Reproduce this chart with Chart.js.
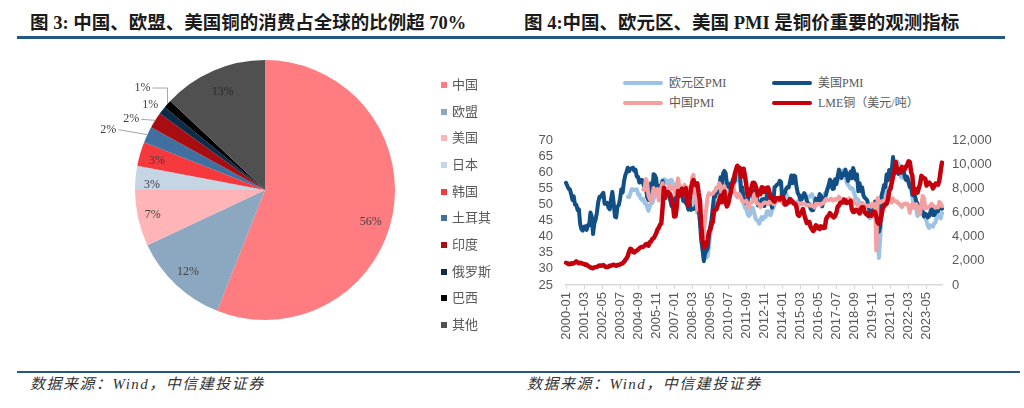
<!DOCTYPE html>
<html><head><meta charset="utf-8">
<script src="https://cdn.jsdelivr.net/npm/chart.js@4/dist/chart.umd.min.js"></script>
<style>
html,body{margin:0;padding:0;background:#fff;}
body{width:1024px;height:408px;position:relative;overflow:hidden;}
.title{position:absolute;top:12px;font-family:"Liberation Serif","Noto Sans CJK SC",serif;font-weight:700;font-size:18.5px;color:#1b1b1b;white-space:nowrap;line-height:22px;}
.rule{position:absolute;height:3px;background:#255783;}
.src{position:absolute;top:375px;font-family:"Liberation Serif","Noto Sans CJK SC",serif;font-style:italic;font-size:15px;letter-spacing:1.5px;color:#333;white-space:nowrap;line-height:18px;}
.pl{position:absolute;left:441px;font-family:"Liberation Serif","Noto Sans CJK SC",serif;font-size:13px;color:#595959;line-height:16px;white-space:nowrap;display:flex;align-items:center;}
.pl i{display:inline-block;width:6px;height:6px;margin-right:5px;}
.ll{position:absolute;font-family:"Liberation Serif","Noto Sans CJK SC",serif;font-size:12px;color:#595959;line-height:16px;white-space:nowrap;display:flex;align-items:center;}
.ll i{display:inline-block;width:40px;height:4px;margin-right:6px;border-radius:2px;}
canvas{position:absolute;}
</style></head>
<body>
<div class="title" style="left:30px">图 3: 中国、欧盟、美国铜的消费占全球的比例超 70%</div>
<div class="rule" style="left:17px;top:36px;width:495px"></div>
<div class="title" style="left:524px">图 4:中国、欧元区、美国 PMI 是铜价重要的观测指标</div>
<div class="rule" style="left:512px;top:36px;width:493px"></div>

<canvas id="pie" width="360" height="280" style="left:85px;top:50px"></canvas>
<div id="pieLegend"></div>

<canvas id="line" width="500" height="240" style="left:515px;top:125px"></canvas>
<div id="lineLegend"></div>

<div class="rule" style="left:17px;top:371px;width:1003px;height:2px"></div>
<div class="src" style="left:30px">数据来源：Wind，中信建投证券</div>
<div class="src" style="left:527px">数据来源：Wind，中信建投证券</div>

<script>
// ---------- Pie data ----------
const pieCategories = ['中国','欧盟','美国','日本','韩国','土耳其','印度','俄罗斯','巴西','其他'];
const pieShares = [56,12,7,3,3,2,2,1,1,13];
const pieColors = ['#ff7c80','#8ca7c0','#ffb5b7','#c5d5e4','#f5393c','#3f70a0','#a80d12','#0d2c4a','#000000','#505050'];

// ---------- Line chart data ----------
const firstYear = 2000, lastYear = 2024, lastMonthOfLastYear = 5;
const tickEvery = 14;
const seriesNames = ['欧元区PMI','美国PMI','中国PMI','LME铜（美元/吨）'];
const seriesColors = ['#9cc2e5','#114f84','#f4a0a3','#c4000c'];
const euroStart = '2004-01';
const chinaStart = '2005-01';
const leftTicks = {min:25, max:70, step:5};
const rightTicks = {min:0, max:12000, step:2000};

const usPMI = [
56.7,55.8,54.9,54.7,53.2,51.4,52.5,49.9,49.9,48.3,48.5,43.9,
42.3,41.9,43.1,43.2,42.1,43.6,43.5,47.5,46.2,40.8,44.1,45.3,
47.5,50.7,52.4,52.4,53.1,53.6,50.2,50.3,50.5,49.0,48.5,51.6,
53.9,50.5,46.2,46.0,49.4,49.8,51.8,54.7,53.7,57.0,59.0,60.1,
61.4,60.3,61.0,61.2,61.4,60.5,60.8,58.6,58.5,56.8,57.6,57.6,
56.4,55.3,55.2,52.3,51.4,53.8,56.6,53.6,59.4,59.1,58.1,54.2,
54.8,55.8,55.2,57.3,54.4,53.8,54.7,54.5,52.9,51.2,49.5,51.4,
49.3,52.3,50.7,54.7,52.6,55.0,53.1,51.1,51.5,50.4,50.0,48.4,
50.7,48.3,48.6,48.6,48.8,49.5,50.0,49.2,44.8,38.9,36.2,32.4,
34.9,35.5,36.4,40.4,42.8,45.3,48.9,52.8,52.4,55.2,53.7,54.9,
58.4,56.5,59.6,60.4,59.7,56.2,55.5,56.3,54.4,56.9,58.2,57.3,
60.8,61.4,61.2,60.4,53.5,55.3,50.9,50.6,51.6,50.8,52.7,53.9,
54.1,52.4,53.4,54.8,53.5,49.7,49.8,49.6,51.5,51.7,49.5,50.7,
53.1,54.2,51.3,50.7,49.0,50.9,55.4,55.7,56.2,56.4,57.3,57.0,
51.3,53.2,53.7,54.9,55.4,55.3,57.1,59.0,56.6,59.0,58.7,55.5,
53.5,52.9,51.5,51.5,52.8,53.5,52.7,51.1,50.2,50.1,48.6,48.2,
48.2,49.5,51.8,50.8,51.3,53.2,52.6,49.4,51.5,51.9,53.2,54.7,
56.0,57.7,57.2,54.8,54.9,57.8,56.3,58.8,60.8,58.7,58.2,59.7,
59.1,60.8,59.3,57.3,58.7,60.2,58.1,61.3,59.8,57.7,59.3,54.1,
56.6,54.2,55.3,52.8,52.1,51.7,51.2,49.1,47.8,48.3,48.1,47.2,
50.9,50.1,49.1,41.5,43.1,52.6,54.2,56.0,55.4,59.3,57.5,60.7,
58.7,60.8,64.7,60.7,61.2,60.6,59.5,59.9,61.1,60.8,61.1,58.8,
57.6,58.6,57.1,55.4,56.1,53.0,52.8,52.8,50.9,50.2,49.0,48.4,
47.4,47.7,46.3,47.1,46.9,46.0,46.4,47.6,49.0,46.7,46.7,47.4,
49.1,47.8,50.3,49.2,48.7];

const euroPMI = [
52.4,52.3,53.4,54.7,54.7,54.4,54.6,54.7,53.1,53.1,51.8,51.4,
51.7,50.4,50.4,49.2,48.0,49.3,50.6,50.4,51.7,52.7,52.8,53.6,
54.0,55.6,56.7,57.6,57.8,57.7,56.6,57.3,56.6,57.5,57.6,56.5,
55.5,55.6,55.4,55.4,55.0,55.6,54.9,53.8,53.2,51.4,51.2,52.4,
52.8,52.3,52.0,50.7,49.9,49.2,47.4,47.6,45.0,41.1,35.6,33.9,
34.4,33.5,33.9,36.8,40.7,42.6,46.3,48.2,49.3,50.7,51.2,51.6,
52.4,54.2,56.6,57.6,55.8,55.6,56.7,55.1,53.7,54.6,55.3,57.1,
57.3,59.0,57.5,58.0,54.6,52.0,50.4,49.0,48.5,47.1,46.4,46.9,
48.8,49.0,47.7,45.9,45.1,45.1,44.0,45.1,46.1,45.4,46.2,46.1,
47.9,47.9,46.8,46.7,48.3,48.8,50.3,51.4,51.1,51.3,51.6,52.7,
54.0,53.2,53.0,53.4,52.2,51.8,51.8,50.7,50.3,50.6,50.1,50.6,
51.0,51.0,52.2,52.0,52.2,52.5,52.4,52.3,52.0,52.3,52.8,53.2,
52.3,51.2,51.6,51.7,51.5,52.8,52.0,51.7,52.6,53.5,53.7,54.9,
55.2,55.4,56.2,56.7,57.0,57.4,56.6,57.4,58.1,58.5,60.1,60.6,
59.6,58.6,56.6,56.2,55.5,54.9,55.1,54.6,53.2,52.0,51.8,51.4,
50.5,49.3,47.5,47.9,47.7,47.6,46.5,47.0,45.7,45.9,46.9,46.3,
47.9,49.2,44.5,33.4,39.4,47.4,51.8,51.7,53.7,54.8,53.8,55.2,
54.8,57.9,62.5,62.9,63.1,63.4,62.8,61.4,58.6,58.3,58.4,58.0,
58.7,58.2,56.5,55.5,54.6,52.1,49.8,49.6,48.4,46.4,47.1,47.8,
48.8,48.5,47.3,45.8,44.8,43.4,42.7,43.5,43.4,43.1,44.2,44.4,
46.6,46.5,46.1,45.7,47.3];

const chinaPMI = [
54.7,54.5,57.9,56.7,52.9,51.7,51.1,52.6,55.1,54.1,54.1,54.8,
51.2,53.1,55.3,56.6,54.8,53.3,53.3,54.0,56.1,54.7,55.3,54.8,
55.1,53.1,56.1,58.1,55.8,54.9,53.3,54.0,56.1,53.2,55.4,55.3,
53.0,53.4,58.4,59.2,53.3,52.0,48.4,48.4,51.2,44.6,38.8,41.2,
45.3,49.0,52.4,53.5,53.1,53.2,53.3,54.0,54.3,55.2,55.2,56.6,
55.8,52.0,55.1,55.7,53.9,52.1,51.2,51.7,53.8,54.7,55.2,53.9,
52.9,52.2,53.4,52.9,52.0,50.9,50.7,50.9,51.2,50.4,49.0,50.3,
50.5,51.0,53.1,53.3,50.4,50.2,50.1,49.2,49.8,50.2,50.6,50.6,
50.4,50.1,50.9,50.6,50.8,50.1,50.3,51.0,51.1,51.4,51.4,51.0,
50.5,50.2,50.3,50.4,50.8,51.0,51.7,51.1,51.1,50.8,50.3,50.1,
49.8,49.9,50.1,50.1,50.2,50.2,50.0,49.7,49.8,49.8,49.6,49.7,
49.4,49.0,50.2,50.1,50.1,50.0,49.9,50.4,50.4,51.2,51.7,51.4,
51.3,51.6,51.8,51.2,51.2,51.7,51.4,51.7,52.4,51.6,51.8,51.6,
51.3,50.3,51.5,51.4,51.9,51.5,51.2,51.3,50.8,50.2,50.0,49.4,
49.5,49.2,50.5,50.1,49.4,49.4,49.7,49.5,49.8,49.3,50.2,50.2,
50.0,35.7,52.0,50.8,50.6,50.9,51.1,51.0,51.5,51.4,52.1,51.9,
51.3,50.6,51.9,51.1,51.0,50.9,50.4,50.1,49.6,49.2,50.1,50.3,
50.1,50.2,49.5,47.4,49.6,50.2,49.0,49.4,50.1,49.2,48.0,47.0,
50.1,52.6,51.9,49.2,48.8,49.0,49.3,49.7,50.2,49.5,49.4,49.0,
49.2,49.1,50.8,50.4,49.5];

const lmeCopper = [
1840,1800,1730,1720,1800,1750,1810,1860,1950,1870,1800,1850,
1780,1770,1740,1680,1700,1590,1520,1450,1420,1380,1460,1480,
1500,1560,1610,1590,1610,1650,1570,1480,1480,1520,1600,1600,
1650,1680,1620,1590,1650,1650,1710,1760,1790,1920,2060,2200,
2420,2760,3000,2940,2730,2690,2810,2850,2940,3040,3120,3150,
3170,3250,3380,3390,3250,3530,3610,3800,3860,4060,4270,4580,
4730,4980,5100,6380,8040,7200,7710,7690,7600,7500,7030,6680,
5670,5680,6450,7770,7650,7480,7970,7510,7650,8010,6960,6590,
7060,7890,8440,8680,8380,8260,8410,7630,6990,4930,3720,3070,
3220,3310,3750,4410,4570,5010,5220,6160,6200,6290,6680,6980,
7390,6850,7460,7740,6840,6500,6740,7280,7710,8290,8470,9150,
9530,9870,9530,9700,8960,9040,9620,9000,8300,7390,7580,7560,
8040,8440,8470,8290,7950,7420,7580,7510,8090,8060,7710,7960,
8050,8060,7650,7200,7250,7000,6910,7190,7160,7200,7070,7210,
7290,7150,6650,6670,6890,6820,7110,7000,6870,6740,6710,6450,
5830,5730,5940,6040,6290,5830,5460,5130,5220,5220,4800,4640,
4470,4600,4950,4870,4690,4640,4860,4750,4720,4730,5450,5660,
5750,5940,5820,5680,5600,5720,5990,6480,6580,6800,6830,6830,
7070,7000,6800,6840,6830,6960,6250,6050,6050,6220,6190,6070,
5930,6300,6440,6440,6020,5870,5940,5710,5760,5740,5860,6080,
6030,5690,5180,5060,5240,5740,6370,6500,6700,6710,7070,7770,
7970,8460,9000,9330,10180,9610,9430,9360,9320,9780,9550,9550,
9780,9940,10240,10180,9360,9030,7530,7980,7750,7650,8040,8370,
9030,8930,8840,8810,8230,8390,8480,8350,8270,8000,8170,8390,
8340,8310,8680,9480,10130];

// month categories
const monthLabels = [];
for (let y = firstYear; y <= lastYear; y++) {
  for (let m = 1; m <= 12; m++) {
    if (y === lastYear && m > lastMonthOfLastYear) break;
    monthLabels.push(y + '-' + String(m).padStart(2, '0'));
  }
}
function alignFrom(start, values) {
  const s = monthLabels.indexOf(start);
  return values.map((v, i) => ({x: monthLabels[s + i], y: v}));
}

// ---------- Pie label placement (style) ----------
const pieLabelStyle = [
  {r:0.85, shift:6, color:'#404040'},
  {r:0.865, shift:0, color:'#404040'},
  {r:0.885, shift:0, color:'#404040'},
  {r:0.87, shift:-3, color:'#404040'},
  {r:0.86, shift:-1, color:'#404040'},
  {out:true, dx:-39, dy:-5, leader:'straight'},
  {out:true, dx:-24, dy:-1, leader:'straight'},
  {out:true, dx:-12, dy:-5, leader:'none'},
  {out:true, dx:-25, dy:-16, leader:'elbow'},
  {r:0.82, shift:0, color:'#2a2a2a'}
];

const pieLabelPlugin = {
  id: 'pieLabels',
  afterDatasetsDraw(chart) {
    const ctx = chart.ctx;
    const meta = chart.getDatasetMeta(0);
    ctx.save();
    ctx.font = '12px "Liberation Serif", serif';
    ctx.strokeStyle = '#a6a6a6';
    ctx.lineWidth = 1;
    ctx.textAlign = 'center';
    ctx.textBaseline = 'middle';
    meta.data.forEach((arc, i) => {
      const p = arc.getProps(['x','y','startAngle','endAngle','outerRadius'], true);
      const mid = (p.startAngle + p.endAngle) / 2;
      const st = pieLabelStyle[i];
      const text = Math.round(pieShares[i]) + '%';
      ctx.fillStyle = st.color || '#404040';
      if (!st.out) {
        const a = mid + (st.shift || 0) * Math.PI / 180;
        const r = p.outerRadius * st.r;
        ctx.fillText(text, p.x + r * Math.cos(a), p.y + r * Math.sin(a));
      } else {
        const ex = p.x + p.outerRadius * Math.cos(mid);
        const ey = p.y + p.outerRadius * Math.sin(mid);
        const lx = ex + st.dx, ly = ey + st.dy;
        ctx.fillText(text, lx, ly);
        const w = ctx.measureText(text).width;
        ctx.beginPath();
        if (st.leader === 'straight') {
          ctx.moveTo(lx + w / 2 + 2, ly);
          ctx.lineTo(ex, ey);
        } else if (st.leader === 'elbow') {
          ctx.moveTo(lx + w / 2 + 2, ly);
          ctx.lineTo(ex, ly);
          ctx.lineTo(ex, ey);
        }
        ctx.stroke();
      }
    });
    ctx.restore();
  }
};

new Chart(document.getElementById('pie'), {
  type: 'pie',
  data: {
    labels: pieCategories,
    datasets: [{ data: pieShares, backgroundColor: pieColors, borderWidth: 0 }]
  },
  options: {
    responsive: false,
    animation: false,
    layout: { padding: 10 },
    plugins: { legend: { display: false }, tooltip: { enabled: false } }
  },
  plugins: [pieLabelPlugin]
});

// pie legend (HTML)
const pl = document.getElementById('pieLegend');
pieCategories.forEach((c, i) => {
  const d = document.createElement('div');
  d.className = 'pl';
  d.style.top = (85 + 26.67 * i - 8) + 'px';
  d.innerHTML = '<i style="background:' + pieColors[i] + '"></i>' + c;
  pl.appendChild(d);
});

// ---------- Line chart ----------
const tickFont = { family: '"Liberation Sans", Arial, sans-serif', size: 13 };
const lineDatasets = [
  { label: seriesNames[0], data: alignFrom(euroStart, euroPMI), yAxisID: 'y', order: 3 },
  { label: seriesNames[1], data: alignFrom(monthLabels[0], usPMI), yAxisID: 'y', order: 2 },
  { label: seriesNames[2], data: alignFrom(chinaStart, chinaPMI), yAxisID: 'y', order: 1 },
  { label: seriesNames[3], data: alignFrom(monthLabels[0], lmeCopper), yAxisID: 'y1', order: 0 }
].map((d, i) => Object.assign(d, {
  borderColor: seriesColors[i],
  backgroundColor: seriesColors[i],
  borderWidth: i === 3 ? 4.5 : 4,
  pointRadius: 0,
  tension: 0,
  borderJoinStyle: 'round',
  borderCapStyle: 'round',
  fill: false
}));

new Chart(document.getElementById('line'), {
  type: 'line',
  data: { labels: monthLabels, datasets: lineDatasets },
  options: {
    responsive: false,
    animation: false,
    layout: { padding: { top: 15, left: 0, right: 0, bottom: 0 } },
    plugins: { legend: { display: false }, tooltip: { enabled: false } },
    scales: {
      x: {
        type: 'category',
        afterFit(scale) { scale.height = 80; },
        border: { display: true, color: '#d9d9d9', width: 1.5 },
        grid: {
          drawOnChartArea: false,
          drawTicks: true,
          tickLength: 4,
          color: (c) => (c.index % tickEvery === 0 ? '#d9d9d9' : 'rgba(0,0,0,0)')
        },
        ticks: {
          autoSkip: false,
          minRotation: 90,
          maxRotation: 90,
          padding: 3,
          color: '#595959',
          font: tickFont,
          callback: function (v, idx) { return idx % tickEvery === 0 ? this.getLabelForValue(v) : ''; }
        }
      },
      y: {
        position: 'left',
        min: leftTicks.min, max: leftTicks.max,
        afterFit(scale) { scale.width = 51; },
        border: { display: false },
        grid: { display: false, drawTicks: true, tickLength: 10 },
        ticks: { stepSize: leftTicks.step, autoSkip: false, padding: 3, color: '#595959', font: tickFont }
      },
      y1: {
        position: 'right',
        min: rightTicks.min, max: rightTicks.max,
        afterFit(scale) { scale.width = 73; },
        border: { display: false },
        grid: { display: false, drawTicks: true, tickLength: 7 },
        ticks: {
          stepSize: rightTicks.step, autoSkip: false, padding: 3, color: '#595959', font: tickFont,
          callback: (v) => Number(v).toLocaleString('en-US')
        }
      }
    }
  }
});

// line legend (HTML), 2 columns
const ll = document.getElementById('lineLegend');
const legCols = [623, 772], legRows = [83, 103];
seriesNames.forEach((n, i) => {
  const d = document.createElement('div');
  d.className = 'll';
  d.style.left = legCols[i % 2] + 'px';
  d.style.top = (legRows[Math.floor(i / 2)] - 8) + 'px';
  d.innerHTML = '<i style="background:' + seriesColors[i] + '"></i>' + n;
  ll.appendChild(d);
});
</script>
</body></html>
